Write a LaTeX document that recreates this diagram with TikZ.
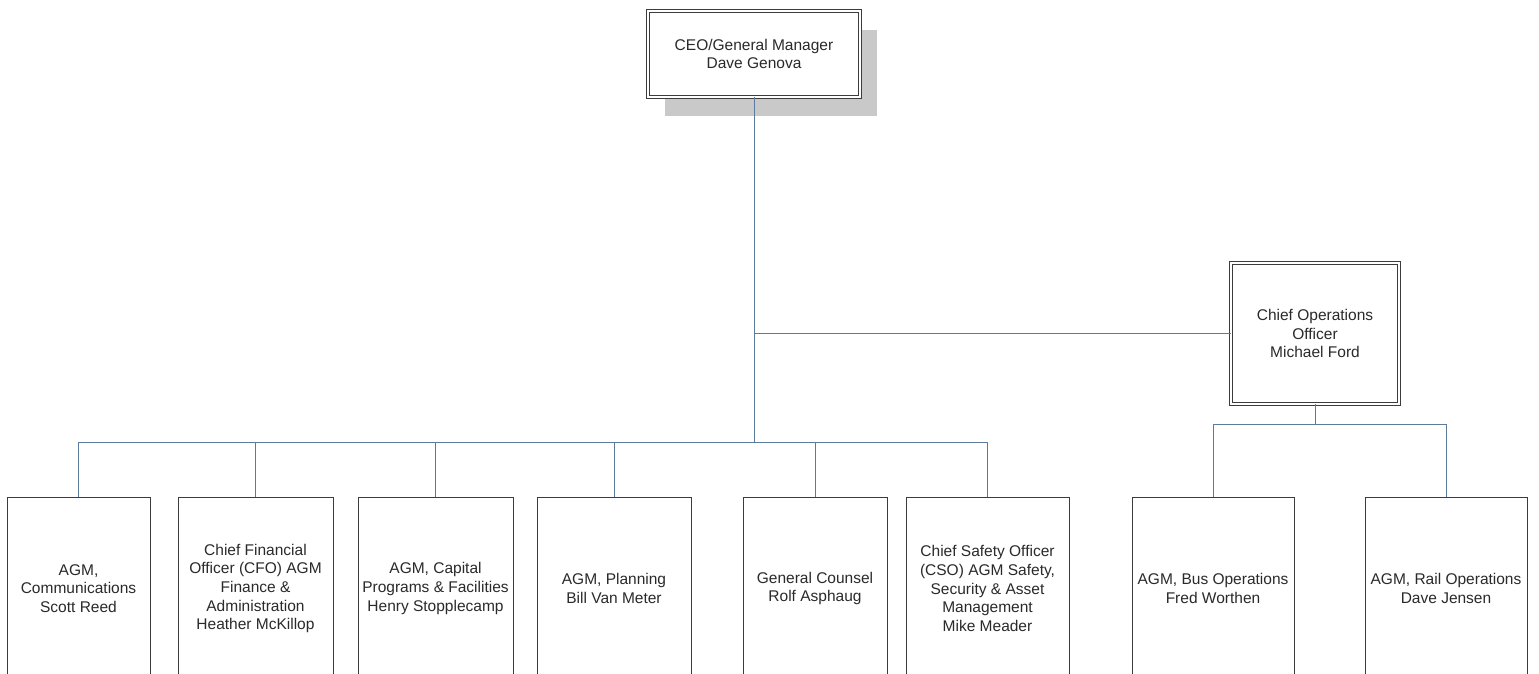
\documentclass[tikz,border=0pt]{standalone}
\usepackage{fontspec}
\setmainfont{Liberation Sans}
\usetikzlibrary{backgrounds}
\definecolor{conn}{HTML}{5A7B9C}
\definecolor{boxline}{HTML}{3C3C3C}
\definecolor{txt}{HTML}{2A2A2A}
\definecolor{shadowgray}{HTML}{C9C9C9}
\tikzset{
  every node/.style={font=\fontsize{15.5}{18.6}\selectfont, text=txt},
  unit/.style={draw=boxline, line width=0.8pt, fill=white, align=center, inner sep=0pt,
               minimum height=183pt},
  head/.style={draw=boxline, line width=0.7pt, double=white, double distance=2.5pt,
               fill=white, align=center, inner sep=0pt},
  link/.style={draw=conn, line width=0.8pt},
  boxshadow/.style={fill=shadowgray}
}
\begin{document}
\begin{tikzpicture}[x=1pt,y=-1pt]
\useasboundingbox (0,0) rectangle (1539,673);
\clip (0,0) rectangle (1539,673);

% heads
\node[head, minimum width=212pt, minimum height=86pt] (ceo) at (754,54) {CEO/General Manager\\Dave Genova};
\node[head, minimum width=168pt, minimum height=141pt] (coo) at (1315,333.5) {Chief Operations\\Officer\\Michael Ford};

\begin{scope}[on background layer]
\fill[white] (0,0) rectangle (1539,673);
\path[boxshadow] ([shift={(17,19)}]ceo.north west) rectangle ([shift={(17,19)}]ceo.south east);
\end{scope}

% units
\node[unit, minimum width=143pt] (b1) at (78.5,588.5) {AGM,\\Communications\\Scott Reed};
\node[unit, minimum width=155pt] (b2) at (255.5,588.5) {Chief Financial\\Officer (CFO) AGM\\Finance \&\\Administration\\Heather McKillop};
\node[unit, minimum width=155pt] (b3) at (435.5,588.5) {AGM, Capital\\Programs \& Facilities\\Henry Stopplecamp};
\node[unit, minimum width=154pt] (b4) at (614,588.5) {AGM, Planning\\Bill Van Meter};
\node[unit, minimum width=144pt] (b5) at (815,588.5) {General Counsel\\Rolf Asphaug};
\node[unit, minimum width=163pt] (b6) at (987.5,588.5) {Chief Safety Officer\\(CSO) AGM Safety,\\Security \& Asset\\Management\\Mike Meader};
\node[unit, minimum width=162pt] (bus) at (1213,588.5) {AGM, Bus Operations\\Fred Worthen};
\node[unit, minimum width=162pt] (rail) at (1446,588.5) {AGM, Rail Operations\\Dave Jensen};

% rails
\coordinate (railA) at (0,442);
\coordinate (railB) at (0,424);

% connectors
\draw[link] (ceo.south) -- (ceo.south |- railA);
\draw[link] (ceo.south |- coo.west) -- (coo.west);
\foreach \n in {b1,b2,b3,b4,b5,b6}{
  \draw[link] (ceo.south |- railA) -| (\n.north);
}
\draw[link] (coo.south) -- (coo.south |- railB);
\draw[link] (coo.south |- railB) -| (bus.north);
\draw[link] (coo.south |- railB) -| (rail.north);
\end{tikzpicture}
\end{document}
